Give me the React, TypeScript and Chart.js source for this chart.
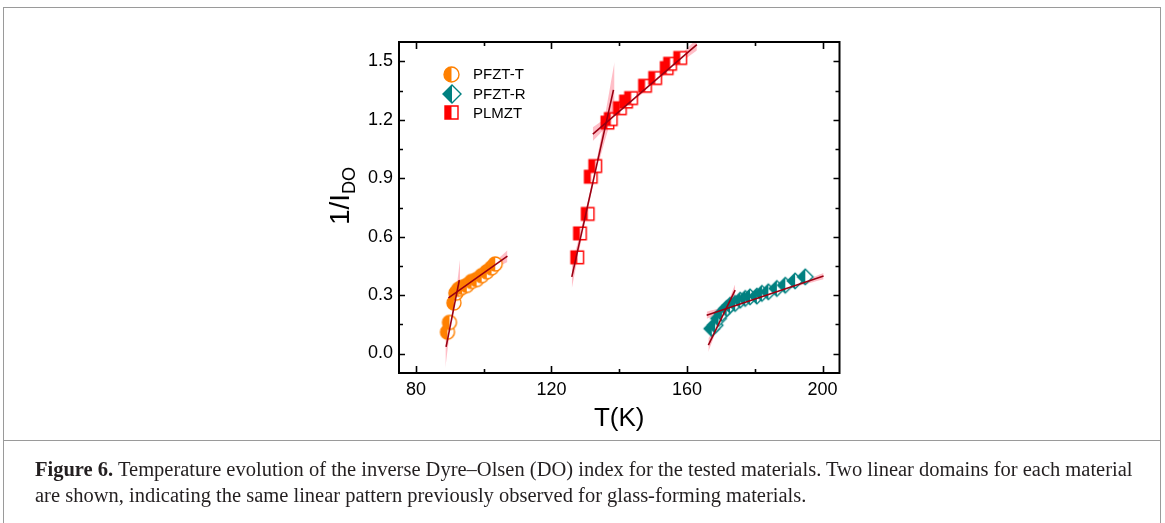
import React, { useEffect, useRef } from "react";
import { Chart, registerables } from "chart.js";

Chart.register(...registerables);

// ---------- data ----------
const T_PFZT_T = [89.3, 89.9, 91.2, 91.8, 92.6, 93.6, 95.0, 96.4, 97.9, 99.4, 100.9, 102.3, 103.4];
const Y_PFZT_T = [0.11, 0.16, 0.26, 0.31, 0.33, 0.34, 0.35, 0.37, 0.38, 0.40, 0.42, 0.44, 0.46];

const T_PFZT_R = [167.3, 168.3, 169.3, 170.3, 171.7, 172.7, 174.2, 175.7, 177.2, 178.6, 180.6, 182.1, 184.0, 186.5, 189.0, 191.9, 194.9];
const Y_PFZT_R = [0.128, 0.145, 0.18, 0.206, 0.231, 0.248, 0.257, 0.274, 0.283, 0.291, 0.295, 0.309, 0.317, 0.334, 0.351, 0.373, 0.394];

const T_PLMZT = [127.6, 128.4, 130.7, 131.6, 132.9, 136.5, 137.5, 140.2, 142.0, 143.5, 147.6, 150.6, 154.0, 155.0, 158.0];
const Y_PLMZT = [0.494, 0.617, 0.717, 0.908, 0.963, 1.186, 1.204, 1.26, 1.294, 1.312, 1.375, 1.415, 1.466, 1.488, 1.518];

// linear fits (end points)
const FIT_T_STEEP_X = [88.9, 92.8];
const FIT_T_STEEP_Y = [0.034, 0.377];
const FIT_T_FLAT_X = [89.6, 107.0];
const FIT_T_FLAT_Y = [0.286, 0.5];
const FIT_L_STEEP_X = [126.0, 138.3];
const FIT_L_STEEP_Y = [0.394, 1.354];
const FIT_L_FLAT_X = [132.2, 162.9];
const FIT_L_FLAT_Y = [1.127, 1.586];
const FIT_R_STEEP_X = [166.3, 174.2];
const FIT_R_STEEP_Y = [0.043, 0.326];
const FIT_R_FLAT_X = [165.8, 200.3];
const FIT_R_FLAT_Y = [0.197, 0.398];

// confidence bands
const BAND_T_STEEP_X = [88.7, 89.8, 90.9, 92.0, 93.0];
const BAND_T_STEEP_LO = [-0.074, 0.078, 0.195, 0.272, 0.31];
const BAND_T_STEEP_HI = [0.106, 0.148, 0.225, 0.342, 0.48];
const BAND_T_FLAT_X = [89.6, 95, 98.3, 102, 107];
const BAND_T_FLAT_LO = [0.256, 0.34, 0.385, 0.427, 0.47];
const BAND_T_FLAT_HI = [0.316, 0.364, 0.401, 0.451, 0.53];
const BAND_L_STEEP_X = [126, 129, 132, 135, 138.6];
const BAND_L_STEEP_LO = [0.334, 0.598, 0.842, 1.046, 1.257];
const BAND_L_STEEP_HI = [0.454, 0.658, 0.882, 1.146, 1.497];
const BAND_L_FLAT_X = [132.2, 140, 147.5, 155, 162.9];
const BAND_L_FLAT_LO = [1.092, 1.229, 1.346, 1.453, 1.556];
const BAND_L_FLAT_HI = [1.162, 1.259, 1.366, 1.483, 1.616];
const BAND_R_STEEP_X = [166.3, 168.3, 170.3, 172.3, 174.2];
const BAND_R_STEEP_LO = [0.008, 0.1, 0.176, 0.243, 0.296];
const BAND_R_STEEP_HI = [0.078, 0.13, 0.196, 0.273, 0.356];
const BAND_R_FLAT_X = [165.8, 174, 183, 192, 200.3];
const BAND_R_FLAT_LO = [0.179, 0.237, 0.291, 0.342, 0.382];
const BAND_R_FLAT_HI = [0.215, 0.253, 0.303, 0.358, 0.414];

const X_TICKS = [80, 120, 160, 200];
const X_MINOR = [100, 140, 180];
const Y_TICKS = [0, 0.3, 0.6, 0.9, 1.2, 1.5];
const Y_MINOR = [0.15, 0.45, 0.75, 1.05, 1.35];
const LEGEND_LABELS = ["PFZT-T", "PFZT-R", "PLMZT"];

const ORANGE = "#ff8000";
const TEAL = "#008080";
const RED = "#ff0000";
const FIT_COLOR = "#9a0012";
const BAND_COLOR = "rgba(255, 110, 130, 0.45)";
const SANS = "'Liberation Sans', Arial, sans-serif";

function zip(xs: number[], ys: number[]) {
  return xs.map((x, i) => ({ x, y: ys[i] }));
}

function makeMarker(shape: string, color: string, size: number) {
  const pad = 2;
  const d = Math.ceil(size + pad * 2);
  const c = document.createElement("canvas");
  c.width = d;
  c.height = d;
  const ctx = c.getContext("2d")!;
  const cx = d / 2;
  const cy = d / 2;
  const r = size / 2;
  const path = () => {
    ctx.beginPath();
    if (shape === "circle") ctx.arc(cx, cy, r, 0, Math.PI * 2);
    else if (shape === "square") ctx.rect(cx - r, cy - r, 2 * r, 2 * r);
    else {
      ctx.moveTo(cx, cy - r);
      ctx.lineTo(cx + r, cy);
      ctx.lineTo(cx, cy + r);
      ctx.lineTo(cx - r, cy);
      ctx.closePath();
    }
  };
  path();
  ctx.fillStyle = "#ffffff";
  ctx.fill();
  ctx.save();
  ctx.beginPath();
  ctx.rect(0, 0, cx, d);
  ctx.clip();
  path();
  ctx.fillStyle = color;
  ctx.fill();
  ctx.restore();
  path();
  ctx.lineWidth = 1.4;
  ctx.strokeStyle = color;
  ctx.stroke();
  return c;
}

export default function App() {
  const ref = useRef<HTMLCanvasElement | null>(null);

  useEffect(() => {
    if (!ref.current) return;
    const mkT = makeMarker("circle", ORANGE, 14);
    const mkR = makeMarker("diamond", TEAL, 15.5);
    const mkL = makeMarker("square", RED, 12.5);
    const lgT = makeMarker("circle", ORANGE, 15);
    const lgR = makeMarker("diamond", TEAL, 18);
    const lgL = makeMarker("square", RED, 13);

    const band = (xs: number[], lo: number[], hi: number[]) => [
      {
        type: "line" as const,
        data: zip(xs, lo),
        borderWidth: 0,
        pointRadius: 0,
        tension: 0.4,
        fill: false,
        order: 3,
      },
      {
        type: "line" as const,
        data: zip(xs, hi),
        borderWidth: 0,
        pointRadius: 0,
        tension: 0.4,
        fill: "-1",
        backgroundColor: BAND_COLOR,
        order: 3,
      },
    ];
    const fit = (xs: number[], ys: number[]) => ({
      type: "line" as const,
      data: zip(xs, ys),
      borderColor: FIT_COLOR,
      borderWidth: 1.6,
      pointRadius: 0,
      fill: false,
      order: 1,
    });
    const pts = (xs: number[], ys: number[], mk: HTMLCanvasElement) => ({
      type: "line" as const,
      data: zip(xs, ys),
      showLine: false,
      pointStyle: mk,
      pointRadius: 7,
      order: 2,
    });

    const boxPlugin = {
      id: "boxPlugin",
      afterDraw(chart: any) {
        const { ctx, chartArea: a, scales } = chart;
        const sx = scales.x;
        const sy = scales.y;
        ctx.save();
        ctx.strokeStyle = "#000";
        ctx.lineWidth = 2;
        ctx.strokeRect(a.left, a.top, a.right - a.left, a.bottom - a.top);
        ctx.lineWidth = 1.6;
        const tick = (v: number, len: number, horiz: boolean) => {
          ctx.beginPath();
          if (horiz) {
            const p = Math.round(sx.getPixelForValue(v)) + 0.5;
            ctx.moveTo(p, a.bottom);
            ctx.lineTo(p, a.bottom - len);
            ctx.moveTo(p, a.top);
            ctx.lineTo(p, a.top + len);
          } else {
            const p = Math.round(sy.getPixelForValue(v)) + 0.5;
            ctx.moveTo(a.left, p);
            ctx.lineTo(a.left + len, p);
            ctx.moveTo(a.right, p);
            ctx.lineTo(a.right - len, p);
          }
          ctx.stroke();
        };
        X_TICKS.forEach((v) => tick(v, 7, true));
        X_MINOR.forEach((v) => tick(v, 4, true));
        Y_TICKS.forEach((v) => tick(v, 6, false));
        Y_MINOR.forEach((v) => tick(v, 4, false));

        // legend
        const legendMarks = [lgT, lgR, lgL];
        const ly = [74, 94, 112.5];
        ctx.font = `15px ${SANS}`;
        ctx.fillStyle = "#000";
        ctx.textBaseline = "middle";
        ctx.textAlign = "left";
        legendMarks.forEach((m, i) => {
          ctx.drawImage(m, Math.round(451.5 - m.width / 2), Math.round(ly[i] - m.height / 2));
          ctx.fillText(LEGEND_LABELS[i], 473, ly[i] + 1);
        });

        // y title 1/I_DO
        const big = `28px ${SANS}`;
        const small = `18px ${SANS}`;
        ctx.font = big;
        const w1 = ctx.measureText("1/I").width;
        ctx.font = small;
        const w2 = ctx.measureText("DO").width;
        const tot = w1 + w2;
        ctx.translate(349, 196);
        ctx.rotate(-Math.PI / 2);
        ctx.textBaseline = "alphabetic";
        ctx.font = big;
        ctx.fillText("1/I", -tot / 2, 0);
        ctx.font = small;
        ctx.fillText("DO", -tot / 2 + w1, 6);
        ctx.restore();
      },
    };

    const chart = new Chart(ref.current, {
      type: "line",
      data: {
        datasets: [
          ...band(BAND_T_STEEP_X, BAND_T_STEEP_LO, BAND_T_STEEP_HI),
          ...band(BAND_T_FLAT_X, BAND_T_FLAT_LO, BAND_T_FLAT_HI),
          ...band(BAND_L_STEEP_X, BAND_L_STEEP_LO, BAND_L_STEEP_HI),
          ...band(BAND_L_FLAT_X, BAND_L_FLAT_LO, BAND_L_FLAT_HI),
          ...band(BAND_R_STEEP_X, BAND_R_STEEP_LO, BAND_R_STEEP_HI),
          ...band(BAND_R_FLAT_X, BAND_R_FLAT_LO, BAND_R_FLAT_HI),
          pts(T_PFZT_T, Y_PFZT_T, mkT),
          pts(T_PFZT_R, Y_PFZT_R, mkR),
          pts(T_PLMZT, Y_PLMZT, mkL),
          fit(FIT_T_STEEP_X, FIT_T_STEEP_Y),
          fit(FIT_T_FLAT_X, FIT_T_FLAT_Y),
          fit(FIT_L_STEEP_X, FIT_L_STEEP_Y),
          fit(FIT_L_FLAT_X, FIT_L_FLAT_Y),
          fit(FIT_R_STEEP_X, FIT_R_STEEP_Y),
          fit(FIT_R_FLAT_X, FIT_R_FLAT_Y),
        ] as any,
      },
      options: {
        responsive: false,
        animation: false,
        devicePixelRatio: 1,
        layout: { padding: { left: 300, right: 325.5, top: 42, bottom: 0 } },
        plugins: {
          legend: { display: false },
          tooltip: { enabled: false },
          filler: { propagate: false },
        },
        scales: {
          x: {
            type: "linear",
            min: 75,
            max: 205,
            grid: { display: false, drawTicks: false },
            border: { display: false },
            afterBuildTicks: (s: any) => {
              s.ticks = X_TICKS.map((v) => ({ value: v }));
            },
            afterFit: (s: any) => {
              s.height = 67;
            },
            ticks: {
              padding: 6,
              color: "#000",
              font: { family: SANS, size: 18 },
              callback: (v: any) => String(v),
            },
            title: {
              display: true,
              text: "T(K)",
              color: "#000",
              font: { family: SANS, size: 26 },
              padding: { top: 0, bottom: 6 },
            },
          },
          y: {
            type: "linear",
            min: -0.1,
            max: 1.6,
            grid: { display: false, drawTicks: false },
            border: { display: false },
            afterBuildTicks: (s: any) => {
              s.ticks = Y_TICKS.map((v) => ({ value: v }));
            },
            afterFit: (s: any) => {
              s.width = 99;
            },
            ticks: {
              padding: 6,
              color: "#000",
              font: { family: SANS, size: 18 },
              callback: (v: any) => Number(v).toFixed(1),
            },
          },
        },
      },
      plugins: [boxPlugin],
    });
    return () => chart.destroy();
  }, []);

  return (
    <div style={{ position: "absolute", left: 0, top: 0, width: 1165, height: 523, background: "#fff", overflow: "hidden" }}>
      <canvas ref={ref} width={1165} height={440} style={{ position: "absolute", left: 0, top: 0, width: 1165, height: 440 }} />
      <div style={{ position: "absolute", left: 3, top: 7, width: 1158, height: 520, border: "1px solid #9a9a9a", boxSizing: "border-box", pointerEvents: "none" }} />
      <div style={{ position: "absolute", left: 3, top: 440, width: 1158, height: 1, background: "#9a9a9a" }} />
      <div
        style={{
          position: "absolute",
          left: 35,
          top: 456,
          fontFamily: "'Liberation Serif', 'Times New Roman', serif",
          fontSize: 20.5,
          lineHeight: "26px",
          color: "#231f20",
          whiteSpace: "nowrap",
        }}
      >
        <b>Figure 6.</b> Temperature evolution of the inverse Dyre–Olsen (DO) index for the tested materials. Two linear domains for each material
        <br />
        are shown, indicating the same linear pattern previously observed for glass-forming materials.
      </div>
    </div>
  );
}
